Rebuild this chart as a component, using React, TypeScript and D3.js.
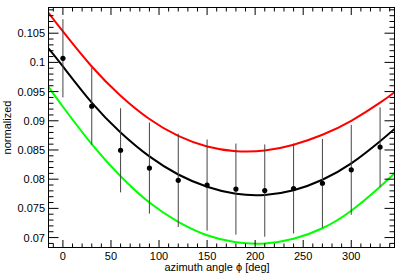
import React from "react";
import * as d3 from "d3";

const pointAngles = [0, 30, 60, 90, 120, 150, 180, 210, 240, 270, 300, 330];
const pointValues = [0.1007, 0.0925, 0.08495, 0.0819, 0.0798, 0.0790, 0.0783, 0.07805, 0.0784, 0.0793, 0.0816, 0.0855];
const pointErrors = [0.0067, 0.0066, 0.0072, 0.0078, 0.0080, 0.0078, 0.0078, 0.0079, 0.0077, 0.0076, 0.0077, 0.0068];

const curveAngles = [-15, 0, 30, 60, 90, 120, 150, 180, 210, 240, 270, 300, 330, 345];
const blackCurve = [0.1024, 0.0993, 0.0931, 0.0880, 0.0839, 0.0808, 0.0787, 0.0775, 0.0773, 0.0781, 0.0799, 0.0827, 0.0865, 0.0886];
const redCurve = [0.1085, 0.1053, 0.0993, 0.0943, 0.0903, 0.0874, 0.0856, 0.0848, 0.0849, 0.0859, 0.0876, 0.0900, 0.0931, 0.0949];
const greenCurve = [0.0958, 0.0924, 0.0860, 0.0805, 0.0760, 0.0727, 0.0704, 0.0692, 0.0690, 0.0698, 0.0716, 0.0746, 0.0787, 0.0810];

const xMajor = [0, 50, 100, 150, 200, 250, 300];
const yMajor = [0.07, 0.075, 0.08, 0.085, 0.09, 0.095, 0.1, 0.105];
const yLabels = ["0.07", "0.075", "0.08", "0.085", "0.09", "0.095", "0.1", "0.105"];

const W = 407, H = 276;
const L = 48.5, R = 394.5, T = 7.5, B = 247.5;
const font = "'Liberation Sans', Arial, sans-serif";

export default function App() {
  const x = d3.scaleLinear().domain([-15, 345]).range([L, R]);
  const y = d3.scaleLinear().domain([0.0683, 0.1094]).range([B, T]);

  const xMinor = d3.range(-10, 345, 10).filter((v) => v % 50 !== 0);
  const yMinor = d3.range(69, 110, 1).map((v) => v / 1000).filter((v) => Math.round(v * 1000) % 5 !== 0);

  const line = d3
    .line<number>()
    .x((_, i) => x(curveAngles[i]))
    .y((d) => y(d))
    .curve(d3.curveNatural);

  return (
    <svg width={W} height={H} style={{ position: "absolute", left: 0, top: 0, background: "#fff" }}>
      <defs>
        <clipPath id="frame">
          <rect x={L} y={T} width={R - L} height={B - T} />
        </clipPath>
      </defs>
      <rect x={0} y={0} width={W} height={H} fill="#fff" />
      <g clipPath="url(#frame)" fill="none" strokeWidth={2}>
        <path d={line(redCurve) || ""} stroke="#ff0000" />
        <path d={line(greenCurve) || ""} stroke="#00ff00" />
        <path d={line(blackCurve) || ""} stroke="#000" />
      </g>
      <g>
        {pointAngles.map((a, i) => (
          <g key={a}>
            <line
              x1={x(a)}
              x2={x(a)}
              y1={y(pointValues[i] + pointErrors[i])}
              y2={y(pointValues[i] - pointErrors[i])}
              stroke="#444"
              strokeWidth={1}
            />
            <circle cx={x(a)} cy={y(pointValues[i])} r={2.6} fill="#000" />
          </g>
        ))}
      </g>
      <rect x={L} y={T} width={R - L} height={B - T} fill="none" stroke="#000" strokeWidth={1} />
      <g stroke="#000" strokeWidth={1}>
        {xMajor.map((v) => (
          <g key={"xm" + v}>
            <line x1={x(v)} x2={x(v)} y1={B} y2={B - 7.5} />
            <line x1={x(v)} x2={x(v)} y1={T} y2={T + 7.5} />
          </g>
        ))}
        {xMinor.map((v) => (
          <g key={"xn" + v}>
            <line x1={x(v)} x2={x(v)} y1={B} y2={B - 4} />
            <line x1={x(v)} x2={x(v)} y1={T} y2={T + 4} />
          </g>
        ))}
        {yMajor.map((v) => (
          <g key={"ym" + v}>
            <line x1={L} x2={L + 10} y1={y(v)} y2={y(v)} />
            <line x1={R} x2={R - 10} y1={y(v)} y2={y(v)} />
          </g>
        ))}
        {yMinor.map((v) => (
          <g key={"yn" + v}>
            <line x1={L} x2={L + 5} y1={y(v)} y2={y(v)} />
            <line x1={R} x2={R - 5} y1={y(v)} y2={y(v)} />
          </g>
        ))}
      </g>
      <g fontFamily={font} fontSize={11} fill="#000">
        {xMajor.map((v) => (
          <text key={"xl" + v} x={x(v)} y={260} textAnchor="middle">
            {String(v)}
          </text>
        ))}
        {yMajor.map((v, i) => (
          <text key={"yl" + v} x={45} y={y(v)} dy="0.36em" textAnchor="end">
            {yLabels[i]}
          </text>
        ))}
        <text x={217} y={271} textAnchor="middle">
          azimuth angle ϕ [deg]
        </text>
        <text transform="translate(11,127.5) rotate(-90)" textAnchor="middle">
          normalized
        </text>
      </g>
    </svg>
  );
}
